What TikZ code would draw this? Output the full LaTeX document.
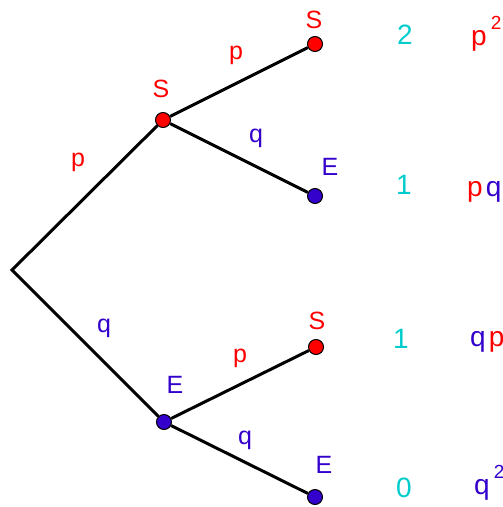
\documentclass[tikz,border=0pt]{standalone}
\usepackage{fontspec}
\setmainfont{Liberation Sans}
\definecolor{rd}{RGB}{255,0,0}
\definecolor{bl}{RGB}{51,0,204}
\definecolor{cy}{RGB}{0,204,204}
\begin{document}
\begin{tikzpicture}[x=1pt,y=-1pt,
  edge/.style={line width=3pt, black},
  dotS/.style={circle, fill=rd, draw=black, line width=1pt, inner sep=0pt, minimum size=15pt},
  dotE/.style={circle, fill=bl, draw=black, line width=1pt, inner sep=0pt, minimum size=15pt},
  lbl/.style={font=\fontsize{25}{28}\selectfont, inner sep=0pt},
  num/.style={font=\fontsize{28}{32}\selectfont, inner sep=0pt, text=cy},
  prb/.style={font=\fontsize{28}{32}\selectfont, inner sep=0pt}]
\useasboundingbox (0,0) rectangle (503,507);
\coordinate (A) at (12,270);
\node[dotS] (S1) at (163,120) {};
\node[dotE] (E1) at (164,422) {};
\node[dotS] (SS) at (315,44) {};
\node[dotE] (SE) at (315,196) {};
\node[dotS] (ES) at (316,347) {};
\node[dotE] (EE) at (315,497) {};
\draw[edge, line join=miter] (S1) -- (A) -- (E1);
\draw[edge] (S1) -- (SS);
\draw[edge] (S1) -- (SE);
\draw[edge] (E1) -- (ES);
\draw[edge] (E1) -- (EE);
% vertex labels
\node[lbl, text=rd] (lS1) at (161,89) {S};
\node[lbl, text=bl] (lE1) at (175,385) {E};
\node[lbl, text=rd] (lSS) at (314,20) {S};
\node[lbl, text=bl] (lSE) at (330,167) {E};
\node[lbl, text=rd] (lES) at (317,321) {S};
\node[lbl, text=bl] (lEE) at (324,465) {E};
% edge labels
\node[lbl, text=rd] (e1) at (78,162) {p};
\node[lbl, text=bl] (e2) at (104,328) {q};
\node[lbl, text=rd] (e3) at (236,55) {p};
\node[lbl, text=bl] (e4) at (256,138) {q};
\node[lbl, text=rd] (e5) at (240,358) {p};
\node[lbl, text=bl] (e6) at (245,440) {q};
% outcomes
\node[num] (n1) at (405,35) {2};
\node[num] (n2) at (404,185) {1};
\node[num] (n3) at (401,339) {1};
\node[num] (n4) at (404,488) {0};
\node[prb, anchor=base west] (p1) at (471,45) {\color{rd}p\kern4pt\raisebox{0.55em}{\fontsize{19}{19}\selectfont 2}};
\node[prb, anchor=base west] (p2) at (467,196) {\color{rd}p\kern3pt\color{bl}q};
\node[prb, anchor=base west] (p3) at (470,346) {\color{bl}q\kern3pt\color{rd}p};
\node[prb, anchor=base west] (p4) at (474,494) {\color{bl}q\kern4pt\raisebox{0.55em}{\fontsize{19}{19}\selectfont 2}};
\end{tikzpicture}
\end{document}
